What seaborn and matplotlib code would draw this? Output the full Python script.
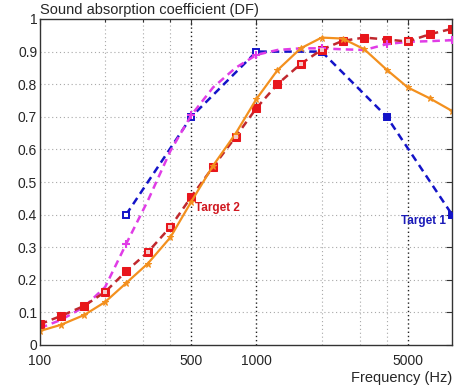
import numpy as np
import pandas as pd
import seaborn as sns
import matplotlib.pyplot as plt
from matplotlib.ticker import FixedLocator, NullFormatter

# third-octave band centre frequencies (Hz)
freqs = [100, 125, 160, 200, 250, 315, 400, 500, 630, 800, 1000,
         1250, 1600, 2000, 2500, 3150, 4000, 5000, 6300, 8000]

# Target 2 (red dashed, squares)
target2 = [0.064, 0.089, 0.12, 0.163, 0.226, 0.285, 0.362, 0.455, 0.546, 0.638, 0.727,
           0.80, 0.862, 0.906, 0.933, 0.943, 0.937, 0.931, 0.953, 0.97]
target2_hollow = [False, False, False, True, False, True, True, False, False, True, False,
                  False, True, True, False, False, False, True, False, False]

# measured (orange solid)
measured = [0.043, 0.062, 0.092, 0.132, 0.19, 0.25, 0.33, 0.44, 0.55, 0.648, 0.755,
            0.843, 0.91, 0.943, 0.94, 0.907, 0.844, 0.79, 0.757, 0.718]

# fitted (magenta dashed)
fitted = [0.052, 0.077, 0.117, 0.178, 0.31, 0.443, 0.595, 0.705, 0.79, 0.85, 0.89,
          0.905, 0.91, 0.91, 0.907, 0.905, 0.923, 0.93, 0.932, 0.935]

# Target 1 (blue dashed, octave bands)
oct_freqs = [250, 500, 1000, 2000, 4000, 8000]
target1 = [0.40, 0.70, 0.90, 0.90, 0.70, 0.40]
target1_filled = [False, False, False, False, True, True]

y_ticks = [0, 0.1, 0.2, 0.3, 0.4, 0.5, 0.6, 0.7, 0.8, 0.9, 1.0]
y_labels = ["0", "0.1", "0.2", "0.3", "0.4", "0.5", "0.6", "0.7", "0.8", "0.9", "1"]
x_major = [100, 500, 1000, 5000]
x_minor = [200, 300, 400, 2000, 3000, 4000]

BLUE = "#1414c8"
MAGENTA = "#e03ce6"
RED_LINE = "#c0282e"
RED = "#e8161c"
ORANGE = "#f3901e"


def main():
    sns.set_style("white")
    plt.rcParams["font.family"] = ["Liberation Sans", "DejaVu Sans"]

    fig = plt.figure(figsize=(4.54, 3.87), dpi=100)
    ax = fig.add_axes([40 / 454, 42 / 387, 412 / 454, 326 / 387])

    df = pd.DataFrame({"f": freqs, "t2": target2, "meas": measured, "fit": fitted})
    dfo = pd.DataFrame({"f": oct_freqs, "t1": target1})

    # grid first (drawn below curves)
    for v in y_ticks[1:-1]:
        ax.axhline(v, color="#a8a8a8", lw=0.8, ls=(0, (1, 2.5)), zorder=0)
    for v in x_minor:
        ax.axvline(v, color="#a8a8a8", lw=0.8, ls=(0, (1, 2.5)), zorder=0)
    for v in [500, 1000, 5000]:
        ax.axvline(v, color="#222222", lw=1.0, ls=(0, (1, 2)), zorder=0)

    sns.lineplot(data=dfo, x="f", y="t1", ax=ax, color=BLUE, lw=1.8,
                 linestyle=(0, (3, 2)), marker="s", markersize=5,
                 markerfacecolor="white", markeredgecolor=BLUE, markeredgewidth=1.4)
    filled = dfo[target1_filled]
    sns.scatterplot(data=filled, x="f", y="t1", ax=ax, color=BLUE, marker="s",
                    s=25, edgecolor=BLUE, zorder=5, clip_on=True)

    sns.lineplot(data=df, x="f", y="fit", ax=ax, color=MAGENTA, lw=1.8,
                 linestyle=(0, (3, 2)))
    mk = df[df["f"].isin(oct_freqs)]
    sns.scatterplot(data=mk, x="f", y="fit", ax=ax, color=MAGENTA, marker="+",
                    s=30, linewidth=1.5, zorder=4)

    sns.lineplot(data=df, x="f", y="t2", ax=ax, color=RED_LINE, lw=1.8,
                 linestyle=(0, (3, 2)), marker="s", markersize=5.5,
                 markerfacecolor=RED, markeredgecolor=RED)
    hollow = df[target2_hollow]
    sns.scatterplot(data=hollow, x="f", y="t2", ax=ax, color="#f4c8c8", marker="s",
                    s=8, linewidth=0, zorder=6)

    sns.lineplot(data=df, x="f", y="meas", ax=ax, color=ORANGE, lw=1.6,
                 linestyle="-", marker="*", markersize=5,
                 markerfacecolor=ORANGE, markeredgecolor=ORANGE)

    ax.set_xscale("log")
    ax.set_xlim(100, 8000)
    ax.set_ylim(0, 1)
    ax.xaxis.set_major_locator(FixedLocator(x_major))
    ax.set_xticklabels([str(v) for v in x_major])
    ax.xaxis.set_minor_locator(FixedLocator(x_minor))
    ax.xaxis.set_minor_formatter(NullFormatter())
    ax.set_yticks(y_ticks)
    ax.set_yticklabels(y_labels, va="center_baseline")
    ax.tick_params(axis="both", which="both", direction="in", top=True, right=True,
                   labelsize=10, length=4, width=0.8, color="#333333", pad=2)
    ax.tick_params(axis="x", which="major", pad=6.5)
    ax.tick_params(axis="x", which="minor", length=2)
    for s in ax.spines.values():
        s.set_color("#333333")
        s.set_linewidth(1.0)

    ax.set_xlabel("")
    ax.set_ylabel("")
    ax.text(0.0, 1.005, "Sound absorption coefficient (DF)", transform=ax.transAxes,
            ha="left", va="bottom", fontsize=10.5)
    fig.text(452 / 454, 1 - 378 / 387, "Frequency (Hz)", ha="right", va="center",
             fontsize=10.5)

    ax.text(520, 0.42, "Target 2", color="#d01820", fontsize=8.5, weight="bold",
            ha="left", va="center")
    ax.text(7500, 0.38, "Target 1", color="#1a1ab8", fontsize=8.5, weight="bold",
            ha="right", va="center")

    fig.savefig("out.png", dpi=100)
    plt.close(fig)


if __name__ == "__main__":
    main()
